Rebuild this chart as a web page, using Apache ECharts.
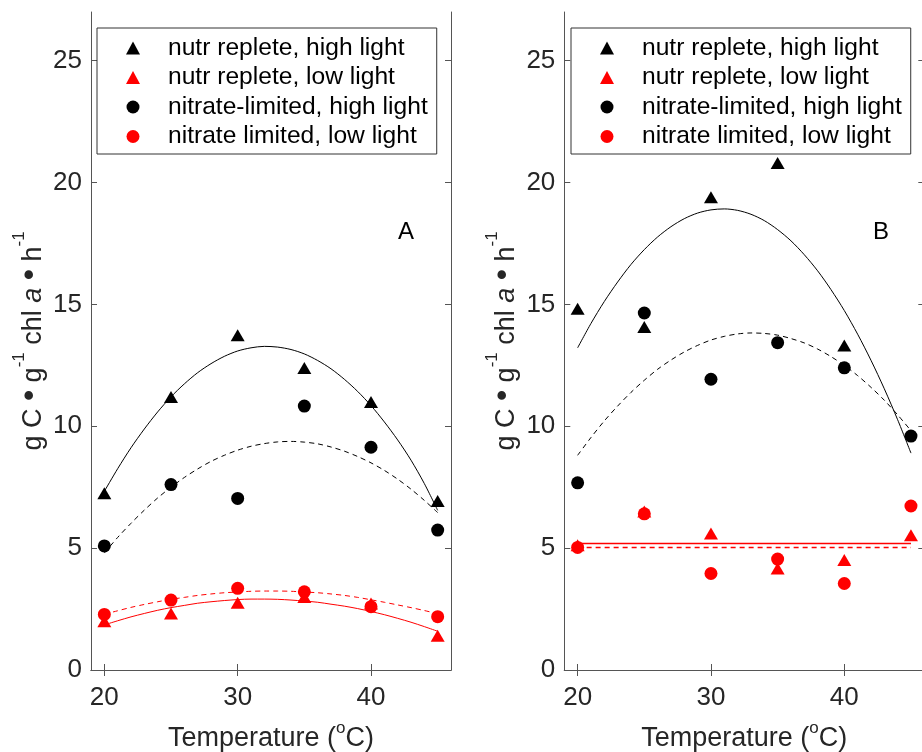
<!DOCTYPE html>
<html>
<head>
<meta charset="utf-8">
<script src="https://cdn.jsdelivr.net/npm/echarts@6/dist/echarts.min.js"></script>
<style>
  html, body { margin: 0; padding: 0; background: #fff; }
  #chart { width: 922px; height: 752px; }
</style>
</head>
<body>
<div id="chart"></div>
<script>
// temperatures of the measurements and of the fitted curves
const temps = [20, 25, 30, 35, 40, 45]
const fitTemps = [20, 21, 22, 23, 24, 25, 26, 27, 28, 29, 30, 31, 32,
  33, 34, 35, 36, 37, 38, 39, 40, 41, 42, 43, 44, 45]
const flatTemps = [20, 45]
const xTicks = [20, 30, 40]
const yTicks = [0, 5, 10, 15, 20, 25]

const legendNames = [
  'nutr replete, high light',
  'nutr replete, low light',
  'nitrate-limited, high light',
  'nitrate limited, low light'
]

// panel A
const aReplHigh = [7.25, 11.2, 13.74, 12.39, 11.0, 6.93]
const aReplLow = [2.0, 2.32, 2.76, 3.0, 2.73, 1.41]
const aNitHigh = [5.09, 7.61, 7.04, 10.83, 9.14, 5.74]
const aNitLow = [2.28, 2.87, 3.35, 3.21, 2.6, 2.19]
const aFitReplHigh = [7.33, 8.26, 9.12, 9.89, 10.59, 11.21, 11.74, 12.2, 12.57, 12.87, 13.09, 13.22, 13.28,
  13.25, 13.15, 12.97, 12.7, 12.36, 11.93, 11.43, 10.85, 10.18, 9.44, 8.61, 7.65, 6.55]
const aFitNitHigh = [4.8, 5.44, 6.02, 6.56, 7.06, 7.5, 7.9, 8.25, 8.56, 8.81, 9.02, 9.18, 9.29,
  9.36, 9.38, 9.35, 9.28, 9.15, 8.98, 8.76, 8.5, 8.19, 7.83, 7.42, 6.96, 6.46]
const aFitReplLow = [1.85, 2.02, 2.18, 2.32, 2.45, 2.56, 2.65, 2.74, 2.8, 2.85, 2.89, 2.91, 2.91,
  2.9, 2.87, 2.83, 2.78, 2.7, 2.62, 2.52, 2.4, 2.27, 2.12, 1.96, 1.78, 1.59]
const aFitNitLow = [2.29, 2.43, 2.57, 2.69, 2.8, 2.9, 2.98, 3.06, 3.12, 3.17, 3.2, 3.23, 3.24,
  3.24, 3.23, 3.2, 3.17, 3.12, 3.06, 2.98, 2.88, 2.78, 2.67, 2.56, 2.44, 2.31]

// panel B (no high-light replete point visible at 45)
const bReplHigh = [14.82, 14.07, 19.4, 20.8, 13.32, null]
const bReplLow = [5.12, 6.5, 5.6, 4.17, 4.51, 5.53]
const bNitHigh = [7.68, 14.65, 11.93, 13.43, 12.4, 9.6]
const bNitLow = [5.03, 6.41, 3.96, 4.55, 3.55, 6.73]
const bFitReplHigh = [13.22, 14.22, 15.12, 15.92, 16.64, 17.25, 17.77, 18.19, 18.52, 18.75, 18.88, 18.92, 18.86,
  18.7, 18.44, 18.07, 17.61, 17.04, 16.38, 15.61, 14.75, 13.78, 12.71, 11.54, 10.27, 8.9]
const bFitNitHigh = [8.81, 9.54, 10.22, 10.83, 11.39, 11.89, 12.34, 12.72, 13.05, 13.32, 13.54, 13.69, 13.79,
  13.83, 13.81, 13.74, 13.6, 13.42, 13.17, 12.86, 12.5, 12.08, 11.6, 11.07, 10.47, 9.82]
const bFitReplLow = [5.19, 5.19]
const bFitNitLow = [5.03, 5.03]

const FONT = "'Liberation Sans', Arial, Helvetica, sans-serif"
const AXIS_COLOR = '#555'
const TEXT_COLOR = '#262626'
const RED = '#ff0000'
const BLACK = '#000000'

const pair = (xs, ys) => xs.map((x, i) => [x, ys[i]])

const grids = [
  { left: 91, top: 12, width: 360, height: 658, outerBoundsMode: 'none', containLabel: false },
  { left: 564.3, top: 12, width: 360, height: 658, outerBoundsMode: 'none', containLabel: false }
]

const xAxes = []
const yAxes = []
grids.forEach((g, i) => {
  xAxes.push({
    type: 'value', gridIndex: i, position: 'bottom', min: 19, max: 46,
    axisLine: { lineStyle: { color: AXIS_COLOR, width: 1 } },
    axisTick: { inside: true, length: 6, customValues: xTicks, lineStyle: { color: AXIS_COLOR } },
    axisLabel: { customValues: xTicks, fontSize: 26, color: TEXT_COLOR, fontFamily: FONT, margin: 15 },
    splitLine: { show: false },
    name: '{n|Temperature (}{s|o}{n|C)}',
    nameLocation: 'middle',
    nameGap: 50,
    nameTextStyle: {
      fontFamily: FONT,
      rich: {
        n: { fontSize: 27, color: TEXT_COLOR, fontFamily: FONT, lineHeight: 32, verticalAlign: 'bottom' },
        s: { fontSize: 17, color: TEXT_COLOR, fontFamily: FONT, lineHeight: 32, verticalAlign: 'top' }
      }
    }
  })
  xAxes.push({
    type: 'value', gridIndex: i, position: 'top', min: 19, max: 46,
    axisLine: { lineStyle: { color: AXIS_COLOR, width: 1 } },
    axisTick: { inside: true, length: 6, customValues: xTicks, lineStyle: { color: AXIS_COLOR } },
    axisLabel: { show: false },
    splitLine: { show: false }
  })
  yAxes.push({
    type: 'value', gridIndex: i, position: 'left', min: 0, max: 27,
    axisLine: { show: true, lineStyle: { color: AXIS_COLOR, width: 1 } },
    axisTick: { show: true, inside: true, length: 6, customValues: yTicks, lineStyle: { color: AXIS_COLOR } },
    axisLabel: { customValues: yTicks, fontSize: 26, color: TEXT_COLOR, fontFamily: FONT, margin: 9 },
    splitLine: { show: false },
    name: '{n|g C }{b|•}{n| g}{s|-1}{n| chl }{i|a}{n| }{b|•}{n| h}{s|-1}',
    nameLocation: 'middle',
    nameGap: 44,
    nameTextStyle: {
      fontFamily: FONT,
      rich: {
        n: { fontSize: 27, color: TEXT_COLOR, fontFamily: FONT, lineHeight: 36, verticalAlign: 'bottom' },
        b: { fontSize: 32, color: TEXT_COLOR, fontFamily: FONT, lineHeight: 36, verticalAlign: 'bottom', padding: [0, 0, 1, 0] },
        i: { fontSize: 27, color: TEXT_COLOR, fontFamily: FONT, fontStyle: 'italic', lineHeight: 36, verticalAlign: 'bottom' },
        s: { fontSize: 17, color: TEXT_COLOR, fontFamily: FONT, lineHeight: 36, verticalAlign: 'top' }
      }
    }
  })
  yAxes.push({
    type: 'value', gridIndex: i, position: 'right', min: 0, max: 27,
    axisLine: { show: true, lineStyle: { color: AXIS_COLOR, width: 1 } },
    axisTick: { show: true, inside: true, length: 6, customValues: yTicks, lineStyle: { color: AXIS_COLOR } },
    axisLabel: { show: false },
    splitLine: { show: false }
  })
})

// points of one group
const scatter = (name, axis, ys, symbol, color) => ({
  name, type: 'scatter', xAxisIndex: axis, yAxisIndex: axis,
  data: pair(temps, ys).filter(p => p[1] != null),
  symbol, symbolSize: symbol === 'triangle' ? [14, 12] : 13,
  itemStyle: { color, opacity: 1 },
  z: 2
})

// fitted curve (the two flat fits in B are straight segments)
const curve = (name, axis, xs, ys, color, dashed) => ({
  name, type: 'line', xAxisIndex: axis, yAxisIndex: axis,
  data: pair(xs, ys),
  smooth: xs.length > 2 ? 0.3 : false, showSymbol: false, symbol: 'none',
  color,
  itemStyle: { color },
  lineStyle: { color, width: xs.length > 2 ? 1 : 1.5, type: dashed ? [5, 4] : 'solid' },
  z: 3
})

const series = [
  scatter(legendNames[0], 0, aReplHigh, 'triangle', BLACK),
  scatter(legendNames[1], 0, aReplLow, 'triangle', RED),
  scatter(legendNames[2], 0, aNitHigh, 'circle', BLACK),
  scatter(legendNames[3], 0, aNitLow, 'circle', RED),
  curve('fitA1', 0, fitTemps, aFitReplHigh, BLACK, false),
  curve('fitA2', 0, fitTemps, aFitNitHigh, BLACK, true),
  curve('fitA3', 0, fitTemps, aFitReplLow, RED, false),
  curve('fitA4', 0, fitTemps, aFitNitLow, RED, true),

  scatter(legendNames[0], 2, bReplHigh, 'triangle', BLACK),
  scatter(legendNames[1], 2, bReplLow, 'triangle', RED),
  scatter(legendNames[2], 2, bNitHigh, 'circle', BLACK),
  scatter(legendNames[3], 2, bNitLow, 'circle', RED),
  curve('fitB1', 2, fitTemps, bFitReplHigh, BLACK, false),
  curve('fitB2', 2, fitTemps, bFitNitHigh, BLACK, true),
  curve('fitB3', 2, flatTemps, bFitReplLow, RED, false),
  curve('fitB4', 2, flatTemps, bFitNitLow, RED, true)
]

// same legend box in both panels
const legendBox = (left) => ({
  data: legendNames,
  orient: 'vertical',
  left, top: 28,
  padding: [7.5, 9, 5, 29],
  itemWidth: 14, itemHeight: 13, itemGap: 4.5,
  backgroundColor: '#fff',
  borderColor: '#333', borderWidth: 1, borderRadius: 0,
  selectedMode: false,
  textStyle: { fontSize: 24.6, lineHeight: 25, color: '#000', fontFamily: FONT, padding: [0, 0, 0, 23] }
})

const chart = echarts.init(document.getElementById('chart'))
chart.setOption({
  animation: false,
  backgroundColor: '#fff',
  grid: grids,
  xAxis: xAxes,
  yAxis: yAxes,
  legend: [legendBox(97), legendBox(571)],
  graphic: [
    { type: 'text', left: 398, top: 220, style: { text: 'A', fontSize: 24, fontFamily: FONT, fill: '#000' } },
    { type: 'text', left: 873, top: 220, style: { text: 'B', fontSize: 24, fontFamily: FONT, fill: '#000' } }
  ],
  series
})
</script>
</body>
</html>
